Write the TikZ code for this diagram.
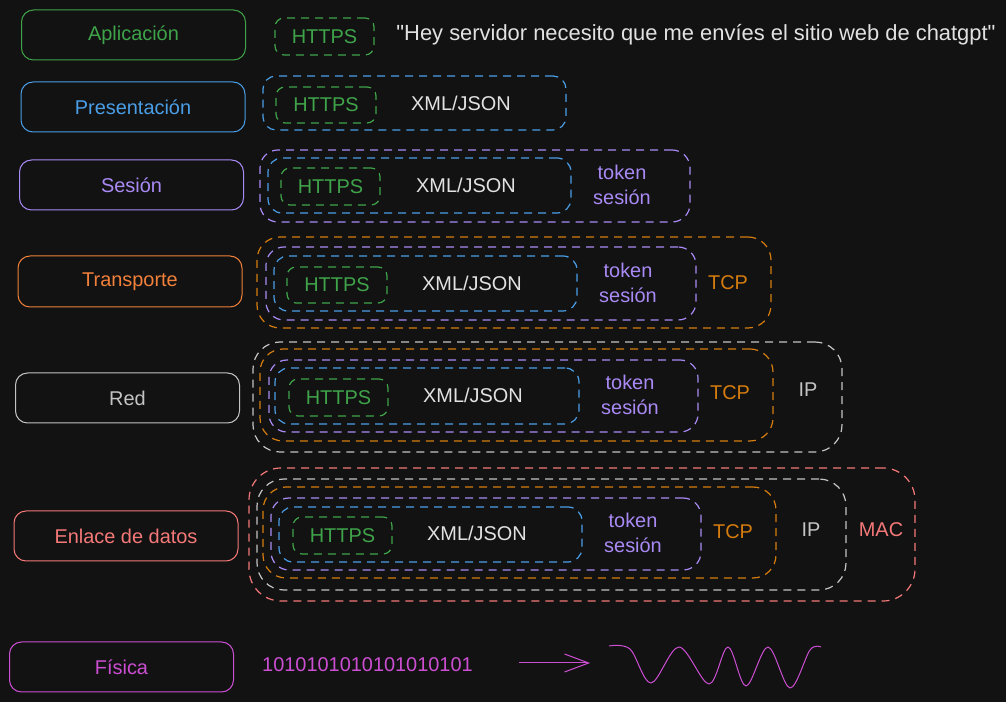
\documentclass[tikz,border=0pt]{standalone}
\usepackage{fontspec}
\setmainfont{Liberation Sans}
\usetikzlibrary{arrows.meta}

\definecolor{fondo}{HTML}{121212}
\definecolor{cverde}{HTML}{3FA34A}
\definecolor{cazul}{HTML}{4A9EE6}
\definecolor{cmorado}{HTML}{A98AF5}
\definecolor{cnaranja}{HTML}{F0803A}
\definecolor{ctcp}{HTML}{D57C0E}
\definecolor{cgris}{HTML}{C4C4C4}
\definecolor{crojo}{HTML}{F57878}
\definecolor{cmagenta}{HTML}{CC4ED2}
\definecolor{cblanco}{HTML}{E2E2E2}

\tikzset{
  capa/.style={draw=#1, text=#1, line width=1bp, rounded corners=12bp,
    minimum width=224bp, minimum height=50bp, font=\fontsize{20}{25}\selectfont},
  pdu/.style={draw=#1, dash pattern=on 8bp off 6bp, line width=1.2bp,
    inner sep=0pt, font=\fontsize{20}{25}\selectfont},
  txt/.style={text=#1, inner sep=0pt, align=center, font=\fontsize{20}{25}\selectfont},
}

\begin{document}
\begin{tikzpicture}[>=latex,line join=round,]
\fill [fondo] (0bp,0bp) rectangle (1006bp,702bp);
\useasboundingbox (0bp,0bp) rectangle (1006bp,702bp);
%% capas
\node (app) at (133.5bp,667bp) [capa=cverde] {Aplicación};
  \node (pres) at (133bp,595bp) [capa=cazul] {Presentación};
  \node (ses) at (131.5bp,517bp) [capa=cmorado] {Sesión};
  \node (trans) at (130bp,420.5bp) [capa=cnaranja, minimum height=51bp] {Transporte};
  \node (red) at (127.5bp,304bp) [capa=cgris] {Red};
  \node (enl) at (126bp,166bp) [capa=crojo] {Enlace de datos};
  \node (fis) at (121.5bp,35bp) [capa=cmagenta] {Física};
%% aplicacion
\node (app_https) at (324.5bp,665.5bp) [pdu=cverde, text=cverde, minimum width=99bp, minimum height=37bp, rounded corners=9bp] {HTTPS};
  \node (app_msg) at (696bp,667bp) [txt=cblanco, font=\fontsize{22}{25}\selectfont] {\textquotedbl Hey servidor necesito que me envíes el sitio web de chatgpt\textquotedbl};
%% presentacion
\node (pres_xml) at (414.5bp,599bp) [pdu=cazul, minimum width=303bp, minimum height=54bp, rounded corners=13bp] {};
  \node (pres_https) at (326bp,597bp) [pdu=cverde, text=cverde, minimum width=100bp, minimum height=36bp, rounded corners=9bp] {HTTPS};
  \node (pres_dat) at (461bp,599bp) [txt=cblanco] {XML/JSON};
%% sesion
\node (ses_tok) at (475bp,516bp) [pdu=cmorado, minimum width=430bp, minimum height=72bp, rounded corners=18bp] {};
  \node (ses_xml) at (419.5bp,516.5bp) [pdu=cazul, minimum width=303bp, minimum height=55bp, rounded corners=14bp] {};
  \node (ses_https) at (330.5bp,515.5bp) [pdu=cverde, text=cverde, minimum width=99bp, minimum height=37bp, rounded corners=9bp] {HTTPS};
  \node (ses_dat) at (466bp,517bp) [txt=cblanco] {XML/JSON};
  \node (ses_id) at (622bp,517.5bp) [txt=cmorado] {token\\sesión};
%% transporte
\node (trans_tcp) at (514bp,419.5bp) [pdu=ctcp, minimum width=514bp, minimum height=91bp, rounded corners=23bp] {};
  \node (trans_tok) at (481bp,418.5bp) [pdu=cmorado, minimum width=430bp, minimum height=73bp, rounded corners=18bp] {};
  \node (trans_xml) at (425.5bp,418.5bp) [pdu=cazul, minimum width=303bp, minimum height=55bp, rounded corners=14bp] {};
  \node (trans_https) at (337bp,417bp) [pdu=cverde, text=cverde, minimum width=100bp, minimum height=36bp, rounded corners=9bp] {HTTPS};
  \node (trans_dat) at (472bp,419bp) [txt=cblanco] {XML/JSON};
  \node (trans_id) at (628bp,419.5bp) [txt=cmorado] {token\\sesión};
  \node (trans_lbl) at (728bp,419bp) [txt=ctcp] {TCP};
%% red
\node (red_ip) at (547.5bp,305bp) [pdu=cgris, minimum width=589bp, minimum height=110bp, rounded corners=27bp] {};
  \node (red_tcp) at (516.5bp,307bp) [pdu=ctcp, minimum width=513bp, minimum height=92bp, rounded corners=23bp] {};
  \node (red_tok) at (483.5bp,306bp) [pdu=cmorado, minimum width=429bp, minimum height=72bp, rounded corners=18bp] {};
  \node (red_xml) at (427bp,306bp) [pdu=cazul, minimum width=304bp, minimum height=56bp, rounded corners=14bp] {};
  \node (red_https) at (338.5bp,304.5bp) [pdu=cverde, text=cverde, minimum width=99bp, minimum height=37bp, rounded corners=9bp] {HTTPS};
  \node (red_dat) at (473bp,307bp) [txt=cblanco] {XML/JSON};
  \node (red_id) at (630bp,307.5bp) [txt=cmorado] {token\\sesión};
  \node (red_lbl_tcp) at (730bp,309bp) [txt=ctcp] {TCP};
  \node (red_lbl_ip) at (808bp,312bp) [txt=cgris] {IP};
%% enlace de datos
\node (enl_mac) at (582bp,167.5bp) [pdu=crojo, minimum width=666bp, minimum height=133bp, rounded corners=32bp] {};
  \node (enl_ip) at (551.5bp,167.5bp) [pdu=cgris, minimum width=589bp, minimum height=111bp, rounded corners=27bp] {};
  \node (enl_tcp) at (519.5bp,169.5bp) [pdu=ctcp, minimum width=513bp, minimum height=91bp, rounded corners=23bp] {};
  \node (enl_tok) at (486bp,168bp) [pdu=cmorado, minimum width=430bp, minimum height=72bp, rounded corners=18bp] {};
  \node (enl_xml) at (430.5bp,167.5bp) [pdu=cazul, minimum width=303bp, minimum height=55bp, rounded corners=14bp] {};
  \node (enl_https) at (342.5bp,166.5bp) [pdu=cverde, text=cverde, minimum width=99bp, minimum height=37bp, rounded corners=9bp] {HTTPS};
  \node (enl_dat) at (477bp,169bp) [txt=cblanco] {XML/JSON};
  \node (enl_id) at (633bp,169bp) [txt=cmorado] {token\\sesión};
  \node (enl_lbl_tcp) at (733bp,170bp) [txt=ctcp] {TCP};
  \node (enl_lbl_ip) at (811bp,172bp) [txt=cgris] {IP};
  \node (enl_lbl_mac) at (881bp,172bp) [txt=crojo] {MAC};
%% fisica
\node (fis_bits) at (367.5bp,37bp) [txt=cmagenta] {1010101010101010101};
  \coordinate (fl_ini) at (519bp,39bp);
  \coordinate (fl_fin) at (590bp,39bp);
  \draw [cmagenta,line width=1bp,-{Straight Barb[length=24bp,width=18bp]}] (fl_ini) -- (fl_fin);
  \draw [cmagenta,line width=1bp] plot [smooth,tension=0.55] coordinates {(609bp,56bp) (630bp,53bp) (651bp,19bp) (679bp,55bp) (709bp,18bp) (728bp,55bp) (746bp,16bp) (768bp,55bp) (790bp,14bp) (810bp,52bp) (821bp,55bp)};
%
\end{tikzpicture}
\end{document}
